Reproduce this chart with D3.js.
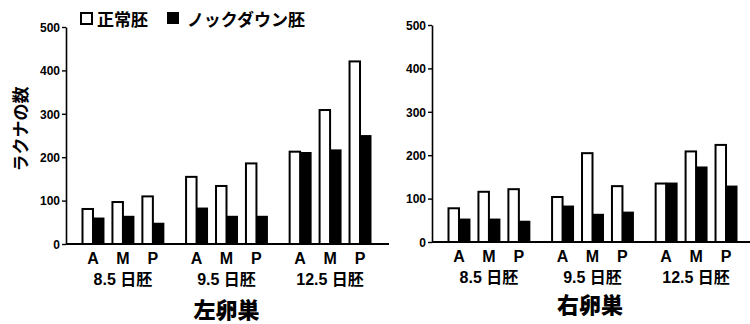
<!DOCTYPE html>
<html>
<head>
<meta charset="utf-8">
<style>
  body { margin: 0; background: #fff; }
  svg { display: block; }
  text { font-family: "Liberation Sans", "Noto Sans CJK JP", sans-serif; font-weight: bold; fill: #000; }
  .tick text { font-size: 12px; }
</style>
<script src="https://d3js.org/d3.v7.min.js"></script>
</head>
<body>
<script>
// data
var groups = ["8.5 日胚", "9.5 日胚", "12.5 日胚"];
var regions = ["A", "M", "P"];
var yTicks = [0, 100, 200, 300, 400, 500];
var leftNormal    = [83, 99, 112, 157, 136, 188, 215, 311, 423];
var leftKnockdown = [61, 65, 49, 84, 65, 65, 212, 218, 251];
var rightNormal    = [80, 118, 124, 106, 207, 131, 137, 211, 226];
var rightKnockdown = [54, 54, 49, 84, 65, 70, 137, 174, 130];
var legendLabels = ["正常胚", "ノックダウン胚"];

var W = 750, H = 324;
var svg = d3.select("body").append("svg").attr("width", W).attr("height", H);

function panel(cfg) {
  var g = svg.append("g");
  var y = d3.scaleLinear().domain([0, 500]).range([cfg.y0, cfg.y1]);
  var x0 = d3.scaleBand().domain(groups)
             .range([cfg.ax + 15.5, cfg.ax + 305.5]).paddingInner(0.2);
  var x1 = d3.scaleBand().domain(regions)
             .range([0, x0.bandwidth()]).paddingInner(0.233);
  var half = x1.bandwidth() / 2;

  var rows = [];
  groups.forEach(function (grp, i) {
    regions.forEach(function (r, j) {
      rows.push({grp: grp, r: r, n: cfg.normal[i * 3 + j], k: cfg.knock[i * 3 + j]});
    });
  });

  // white (normal) bars
  g.selectAll(".wbar").data(rows).enter().append("rect")
    .attr("class", "wbar")
    .attr("x", function (d) { return x0(d.grp) + x1(d.r) + 1; })
    .attr("y", function (d) { return y(d.n) + 1; })
    .attr("width", half - 1)
    .attr("height", function (d) { return y(0) - y(d.n) - 1; })
    .attr("fill", "#fff").attr("stroke", "#000").attr("stroke-width", 2);

  // black (knockdown) bars
  g.selectAll(".kbar").data(rows).enter().append("rect")
    .attr("class", "kbar")
    .attr("x", function (d) { return x0(d.grp) + x1(d.r) + half; })
    .attr("y", function (d) { return y(d.k); })
    .attr("width", half)
    .attr("height", function (d) { return y(0) - y(d.k); })
    .attr("fill", "#000");

  // y axis
  var ya = g.append("g").attr("transform", "translate(" + cfg.ax + ",0)")
    .call(d3.axisLeft(y).tickValues(yTicks).tickSize(4).tickSizeOuter(0).tickPadding(2));
  ya.select(".domain").attr("stroke-width", 1.6);
  ya.selectAll(".tick line").attr("stroke-width", 1.4);
  ya.selectAll(".tick text").attr("dy", "0.36em");

  // x baseline
  g.append("line")
    .attr("x1", cfg.ax).attr("x2", cfg.xEnd)
    .attr("y1", y(0)).attr("y2", y(0))
    .attr("stroke", "#000").attr("stroke-width", 2);

  // region labels
  g.selectAll(".rlab").data(rows).enter().append("text")
    .attr("x", function (d) { return x0(d.grp) + x1(d.r) + x1.bandwidth() / 2; })
    .attr("y", cfg.y0 + 19.5)
    .attr("text-anchor", "middle")
    .style("font-size", "16px")
    .text(function (d) { return d.r; });

  // group labels
  g.selectAll(".glab").data(groups).enter().append("text")
    .attr("x", function (d) { return x0(d) + x0.bandwidth() / 2; })
    .attr("y", cfg.y0 + 41)
    .attr("text-anchor", "middle")
    .style("font-size", "16px")
    .text(function (d) { return d; });

  // panel title
  g.append("text")
    .attr("x", (cfg.ax + cfg.xEnd) / 2 - 1)
    .attr("y", cfg.titleY)
    .attr("text-anchor", "middle")
    .style("font-size", "22px").style("font-weight", 900)
    .text(cfg.title);
}

panel({ax: 66, xEnd: 389, y0: 244, y1: 27, normal: leftNormal, knock: leftKnockdown,
       title: "左卵巣", titleY: 318});
panel({ax: 432, xEnd: 750, y0: 242, y1: 25, normal: rightNormal, knock: rightKnockdown,
       title: "右卵巣", titleY: 313});

// y axis title
svg.append("text")
  .attr("transform", "translate(21,129) rotate(-90)")
  .attr("text-anchor", "middle")
  .attr("dy", "0.35em")
  .style("font-size", "17px")
  .text("ラクナの数");

// legend
var leg = svg.append("g");
leg.append("rect").attr("x", 81).attr("y", 13).attr("width", 11).attr("height", 11)
  .attr("fill", "#fff").attr("stroke", "#000").attr("stroke-width", 2);
leg.append("text").attr("x", 97).attr("y", 25.5).style("font-size", "17px").text(legendLabels[0]);
leg.append("rect").attr("x", 167).attr("y", 12).attr("width", 12).attr("height", 12)
  .attr("fill", "#000");
leg.append("text").attr("x", 187).attr("y", 25.5).style("font-size", "17px").text(legendLabels[1]);
</script>
</body>
</html>
